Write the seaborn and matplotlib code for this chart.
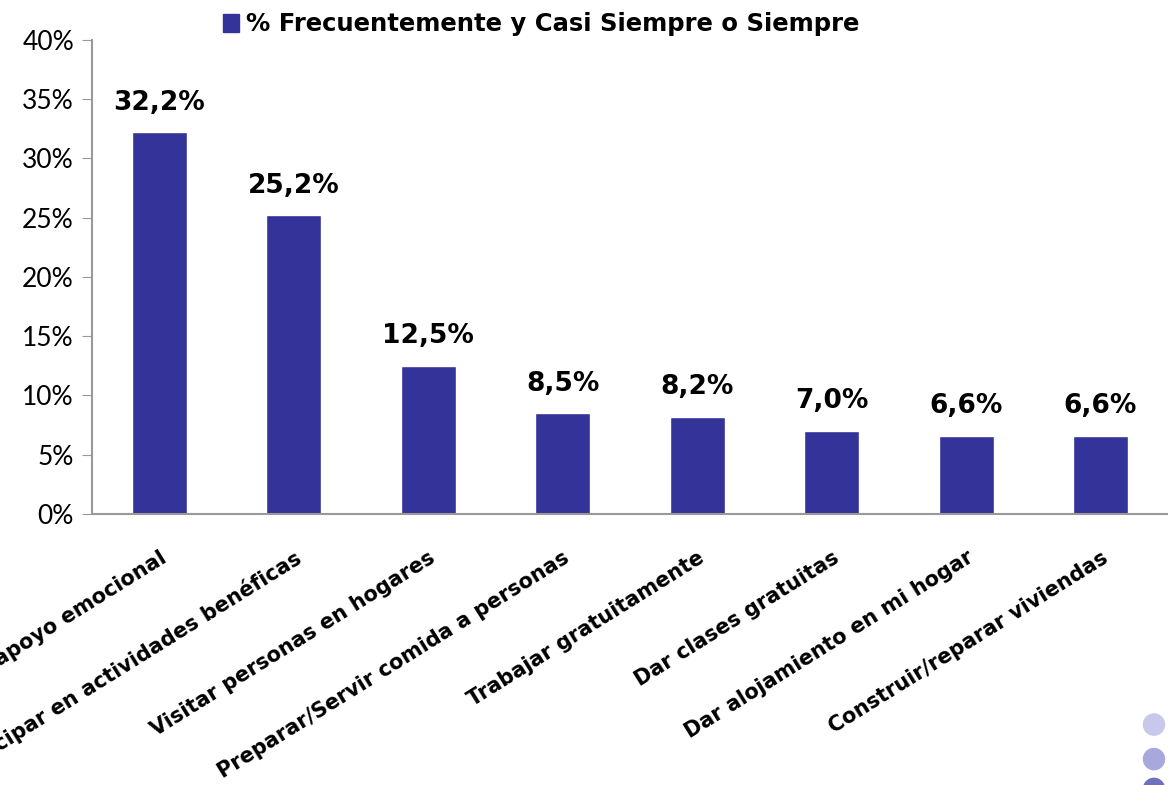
import seaborn as sns
import matplotlib.pyplot as plt
import matplotlib.patches as mpatches
import pandas as pd

categorias = [
    "Dar apoyo emocional",
    "Participar en actividades benéficas",
    "Visitar personas en hogares",
    "Preparar/Servir comida a personas",
    "Trabajar gratuitamente",
    "Dar clases gratuitas",
    "Dar alojamiento en mi hogar",
    "Construir/reparar viviendas",
]
porcentajes = [32.2, 25.2, 12.5, 8.5, 8.2, 7.0, 6.6, 6.6]
serie = "% Frecuentemente y Casi Siempre o Siempre"
color_barra = "#333399"

df = pd.DataFrame({"categoria": categorias, "valor": porcentajes})

sns.set_style("white")
plt.rcParams['font.family'] = ['Lato', 'DejaVu Sans']
plt.rcParams['text.color'] = 'black'
plt.rcParams['xtick.labelcolor'] = 'black'
plt.rcParams['ytick.labelcolor'] = 'black'
negrita = {"family": "DejaVu Sans", "weight": "bold"}

fig = plt.figure(figsize=(11.68, 7.85), dpi=100)
ax = fig.add_axes([0.0788, 0.3452, 0.921, 0.604])

sns.barplot(data=df, x="categoria", y="valor", color=color_barra,
            width=0.41, saturation=1, ax=ax)

ax.set_ylim(0, 40)
ax.set_xlim(-0.5, len(categorias) - 0.5)
ax.set_yticks(range(0, 41, 5))
ax.set_yticklabels([f"{v}%" for v in range(0, 41, 5)], fontsize=19, color="black")
ax.set_xlabel("")
ax.set_ylabel("")

# ticks en los limites de las categorias
ax.set_xticks([i - 0.5 for i in range(len(categorias) + 1)], minor=False)
ax.set_xticklabels([])
ax.set_xticks(range(len(categorias)), minor=True)
ax.set_xticklabels(categorias, minor=True, rotation=32, ha="right",
                   rotation_mode="anchor", fontsize=15, color="black", **negrita)
ax.tick_params(axis="x", which="minor", length=0, pad=24)
ax.tick_params(axis="x", which="major", length=7, color="#999999", direction="out")
ax.tick_params(axis="y", length=7, color="#999999", direction="out", left=True, pad=6)

for lado in ["top", "right"]:
    ax.spines[lado].set_visible(False)
for lado in ["left", "bottom"]:
    ax.spines[lado].set_color("#999999")
    ax.spines[lado].set_linewidth(1.5)

for i, v in enumerate(porcentajes):
    ax.text(i, v + 1.4, f"{v:.1f}%".replace(".", ","), ha="center", va="bottom",
            fontsize=19, color="black", **negrita)

handle = mpatches.Patch(color=color_barra, label=serie)
leg = fig.legend(handles=[handle], loc="upper left", bbox_to_anchor=(0.172, 1.012),
                 frameon=False, prop={"size": 17.5, **negrita},
                 handlelength=0.65, handleheight=0.8, handletextpad=0.3)
for t in leg.get_texts():
    t.set_color("black")

# circulos decorativos de la diapositiva
for yc, col in [(0.077, "#c8c8ec"), (0.033, "#a8a8dc"), (-0.005, "#7070c0")]:
    fig.patches.append(mpatches.Ellipse((0.988, yc), 0.018, 0.027, color=col,
                                        transform=fig.transFigure, figure=fig))

fig.savefig("out.png", dpi=100)
